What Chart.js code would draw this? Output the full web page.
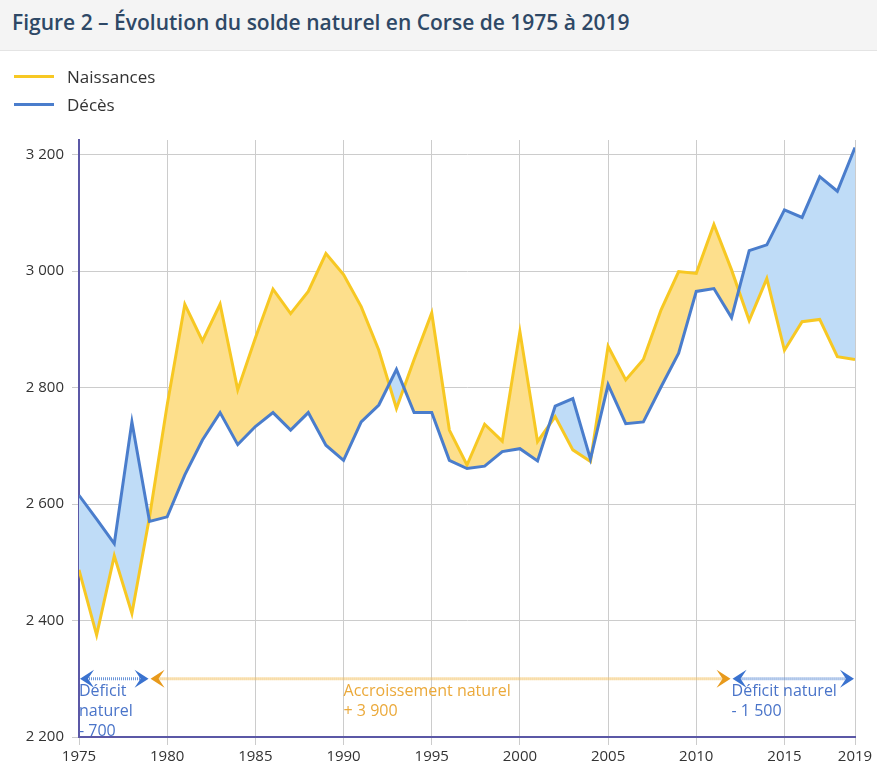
<!DOCTYPE html>
<html lang="fr">
<head>
<meta charset="utf-8">
<title>Solde naturel en Corse</title>
<script src="https://cdn.jsdelivr.net/npm/chart.js@4.4.1/dist/chart.umd.min.js"></script>
<style>
  html, body { margin: 0; padding: 0; background: #fff; }
  body { width: 877px; height: 771px; position: relative; overflow: hidden; font-family: "Open Sans", sans-serif; }
  #title {
    position: absolute; left: 0; top: 0; width: 877px; height: 51px;
    background: #f4f4f4; border-bottom: 1px solid #e4e4e4; z-index: 2;
    font-size: 21px; font-weight: 600; color: #2e4866; line-height: 44px; padding-left: 12px; box-sizing: border-box;
  }
  .legend { position: absolute; left: 14px; z-index: 2; font-size: 17px; color: #333; height: 24px; line-height: 24px; }
  .legend span { display: inline-block; width: 40px; height: 3px; vertical-align: middle; margin-right: 13px; margin-top: -3px; }
  #wrap { position: absolute; left: 0; top: 0; width: 877px; height: 771px; z-index: 1; }
</style>
</head>
<body>
<div id="title">Figure 2 – Évolution du solde naturel en Corse de 1975 à 2019</div>
<div class="legend" style="top:65px"><span style="background:#f7c823"></span>Naissances</div>
<div class="legend" style="top:93px"><span style="background:#4a7dcc"></span>Décès</div>
<div id="wrap"><canvas id="graph" width="877" height="771"></canvas></div>
<script>
// Années et effectifs annuels
const years = [1975, 1976, 1977, 1978, 1979, 1980, 1981, 1982, 1983, 1984,
               1985, 1986, 1987, 1988, 1989, 1990, 1991, 1992, 1993, 1994,
               1995, 1996, 1997, 1998, 1999, 2000, 2001, 2002, 2003, 2004,
               2005, 2006, 2007, 2008, 2009, 2010, 2011, 2012, 2013, 2014,
               2015, 2016, 2017, 2018, 2019];
const naissances = [2487, 2375, 2511, 2412, 2578, 2770, 2943, 2880, 2943, 2796,
                    2885, 2969, 2927, 2965, 3030, 2994, 2939, 2864, 2764, 2848,
                    2928, 2727, 2667, 2737, 2708, 2896, 2707, 2750, 2693, 2673,
                    2871, 2813, 2848, 2933, 2999, 2996, 3080, 3002, 2915, 2987,
                    2864, 2913, 2917, 2853, 2848];
const deces = [2615, 2574, 2532, 2741, 2570, 2578, 2650, 2710, 2757, 2702,
               2733, 2757, 2727, 2757, 2701, 2675, 2741, 2770, 2831, 2757,
               2757, 2675, 2661, 2665, 2690, 2695, 2674, 2768, 2781, 2677,
               2805, 2738, 2741, 2801, 2859, 2965, 2970, 2920, 3035, 3045,
               3105, 3092, 3162, 3137, 3212];

const xTicks = [1975, 1980, 1985, 1990, 1995, 2000, 2005, 2010, 2015, 2019];
const yTicks = [2200, 2400, 2600, 2800, 3000, 3200];

// Périodes de déficit / accroissement (bornes, libellés)
const periodStart = [1975, 1979, 2012];
const periodEnd = [1979, 2012, 2019];
const periodText = [['Déficit', 'naturel', '- 700'], ['Accroissement naturel', '+ 3 900'], ['Déficit naturel', '- 1 500']];
const periodTextYear = [1975, 1990, 2012];
const periodLevel = 2300;

const BLUE = '#4a7dcc';
const YELLOW = '#f7c823';
const periodColor = ['#4a74c9', '#eba93a', '#4a74c9'];
const periodArrow = ['#3a72cf', '#e89a1c', '#3a72cf'];
const periodDots = ['#6b95d8', '#f2c060', '#6b95d8'];

function fmt(v) {
    return String(v).replace(/\B(?=(\d{3})+(?!\d))/g, ' ');
}

// Flèche en chevron, pointe en (x, y), dir = -1 vers la gauche, 1 vers la droite
function chevron(ctx, x, y, dir, color) {
    ctx.beginPath();
    ctx.moveTo(x, y);
    ctx.lineTo(x - dir * 14, y - 9);
    ctx.lineTo(x - dir * 8, y);
    ctx.lineTo(x - dir * 14, y + 9);
    ctx.closePath();
    ctx.fillStyle = color;
    ctx.fill();
}

const periodsPlugin = {
    id: 'periods',
    afterDraw(chart) {
        const ctx = chart.ctx;
        const xs = chart.scales.x;
        const y = chart.scales.y.getPixelForValue(periodLevel);
        ctx.save();
        for (let i = 0; i < periodStart.length; i++) {
            const x0 = xs.getPixelForValue(periodStart[i]);
            const x1 = xs.getPixelForValue(periodEnd[i]);
            ctx.strokeStyle = periodDots[i];
            ctx.lineWidth = 3;
            ctx.setLineDash([1, 1]);
            ctx.beginPath();
            ctx.moveTo(x0 + 6, y);
            ctx.lineTo(x1 - 6, y);
            ctx.stroke();
            ctx.setLineDash([]);
            chevron(ctx, x0 + 1, y, -1, periodArrow[i]);
            chevron(ctx, x1 - 1, y, 1, periodArrow[i]);

            ctx.fillStyle = periodColor[i];
            ctx.font = '16px "Open Sans", sans-serif';
            ctx.textAlign = 'left';
            ctx.textBaseline = 'middle';
            const tx = xs.getPixelForValue(periodTextYear[i]);
            periodText[i].forEach((line, k) => {
                ctx.fillText(line, tx, y + 13 + k * 20);
            });
        }
        ctx.restore();
    }
};

const ctx = document.getElementById('graph').getContext('2d');
window.chart = new Chart(ctx, {
    type: 'line',
    data: {
        datasets: [{
            label: 'Décès',
            data: years.map((yr, i) => ({ x: yr, y: deces[i] })),
            borderColor: BLUE,
            borderWidth: 3,
            pointRadius: 0,
            tension: 0,
            fill: false
        }, {
            label: 'Naissances',
            data: years.map((yr, i) => ({ x: yr, y: naissances[i] })),
            borderColor: YELLOW,
            borderWidth: 3,
            pointRadius: 0,
            tension: 0,
            fill: { target: 0, above: '#fddf8c', below: '#bfdcf7' }
        }]
    },
    options: {
        responsive: false,
        animation: false,
        layout: { padding: { top: 140, right: 22, left: 0, bottom: 0 } },
        plugins: {
            legend: { display: false },
            tooltip: { enabled: false },
            filler: { drawTime: 'beforeDatasetsDraw' }
        },
        scales: {
            x: {
                type: 'linear',
                min: 1975,
                max: 2019,
                afterBuildTicks: scale => { scale.ticks = xTicks.map(v => ({ value: v })); },
                afterFit: scale => { scale.height = 34; },
                grid: { color: '#cccccc', tickLength: 8, tickColor: '#cccccc' },
                border: { color: '#5b58a6', width: 2 },
                ticks: {
                    autoSkip: false,
                    maxRotation: 0,
                    padding: 3,
                    color: '#333',
                    font: { family: '"Open Sans", sans-serif', size: 15 },
                    callback: v => String(v)
                }
            },
            y: {
                min: 2200,
                max: 3225,
                afterBuildTicks: scale => { scale.ticks = yTicks.map(v => ({ value: v })); },
                afterFit: scale => { scale.width = 79; },
                grid: { color: '#cccccc', tickLength: 7, tickColor: '#cccccc' },
                border: { color: '#5b58a6', width: 2 },
                ticks: {
                    padding: 8,
                    color: '#333',
                    font: { family: '"Open Sans", sans-serif', size: 15 },
                    callback: v => fmt(v)
                }
            }
        }
    },
    plugins: [periodsPlugin]
});
</script>
</body>
</html>
